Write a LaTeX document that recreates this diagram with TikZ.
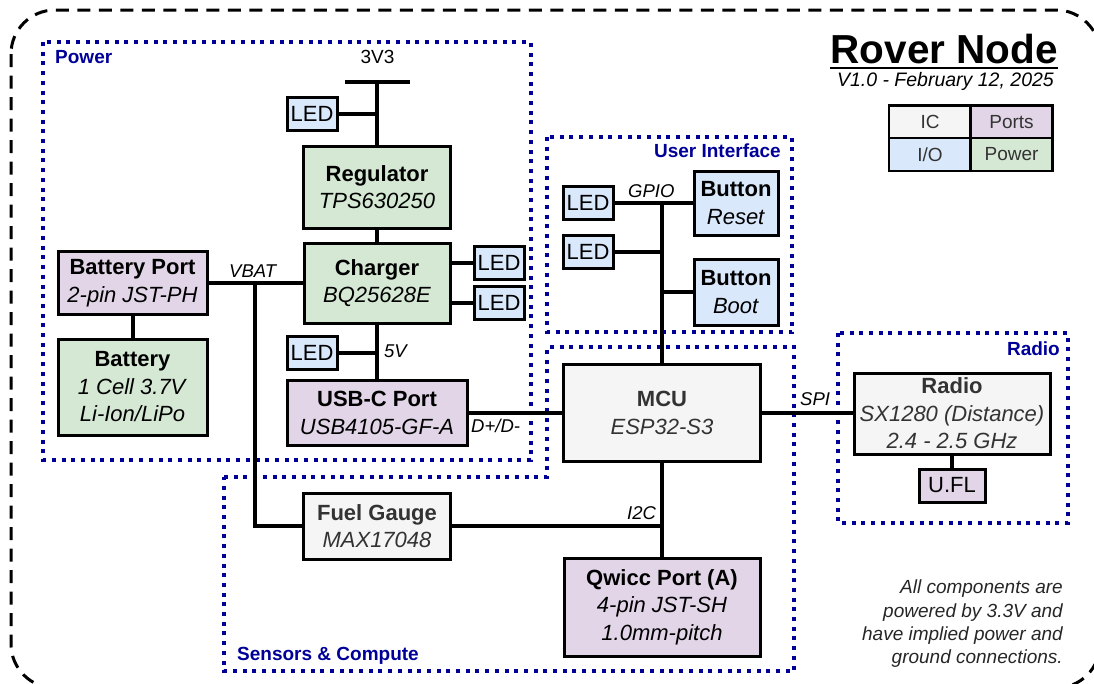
\documentclass[tikz,border=0pt]{standalone}
\usepackage{fontspec}
\setmainfont{Liberation Sans}
\definecolor{cgreen}{HTML}{D5E8D4}
\definecolor{cpurple}{HTML}{E1D5E7}
\definecolor{cblue}{HTML}{DAE8FC}
\definecolor{cgray}{HTML}{F5F5F5}
\definecolor{cdark}{HTML}{333333}
\definecolor{navy}{HTML}{000099}
\tikzset{
  box/.style={draw, line width=3pt, inner sep=0pt, align=center, font=\fontsize{22}{27.5}\selectfont},
  pw/.style={box, fill=cgreen},
  prt/.style={box, fill=cpurple},
  io/.style={box, fill=cblue},
  ic/.style={box, fill=cgray, text=cdark},
  led/.style={io, minimum width=50pt, minimum height=33pt},
  wire/.style={line width=4pt},
  grp/.style={draw=navy, line width=4pt, dash pattern=on 4pt off 5.7pt},
  lbl/.style={font=\fontsize{18.5}{20}\selectfont\itshape, inner sep=0pt},
  glbl/.style={font=\fontsize{19}{20}\selectfont\bfseries, text=navy, inner sep=0pt},
  leg/.style={draw, line width=2.5pt, inner sep=0pt, minimum width=82pt, minimum height=33pt, text=cdark, font=\fontsize{19}{20}\selectfont},
  note/.style={font=\fontsize{19}{20}\selectfont\itshape, text=black!85, inner sep=0pt, anchor=base east},
}
\begin{document}
\begin{tikzpicture}[x=1pt,y=-1pt]
\useasboundingbox (0,0) rectangle (1094,683);
% outer frame
\draw[line width=3pt, dash pattern=on 13pt off 8.5pt, rounded corners=44pt] (11,10) rectangle (1100,688);
% groups
\draw[grp] (43,42) rectangle (531,460);
\draw[grp] (547,137) rectangle (792,332);
\draw[grp] (224,477) -- (547,477) -- (547,347) -- (794,347) -- (794,671) -- (224,671) -- cycle;
\draw[grp] (838,333) rectangle (1068,523);
\node[glbl, anchor=base west] (gpower) at (55,63) {Power};
\node[glbl, anchor=base east] (gui) at (781,157) {User Interface};
\node[glbl, anchor=base west] (gsens) at (237,660) {Sensors \& Compute};
\node[glbl, anchor=base east] (gradio) at (1060,355) {Radio};
% title
\node[font=\fontsize{40.5}{44}\selectfont\bfseries, inner sep=0pt, anchor=base east] (title) at (1058,63) {Rover Node};
\draw[line width=2.5pt] ([yshift=-5pt]title.base west) -- ([yshift=-5pt]title.base east);
\node[font=\fontsize{19.5}{22}\selectfont\itshape, inner sep=0pt, anchor=base east] (sub) at (1054,86) {V1.0 - February 12, 2025};
% legend
\node[leg, fill=cgray] (lic) at (930,122) {IC};
\node[leg, fill=cpurple] (lports) at (1011.5,122) {Ports};
\node[leg, fill=cblue] (lio) at (930,154.5) {I/O};
\node[leg, fill=cgreen] (lpow) at (1011.5,154.5) {Power};
% boxes
\node[pw, minimum width=147pt, minimum height=82pt] (reg) at (377,187) {\textbf{Regulator}\\\textit{TPS630250}};
\node[pw, minimum width=146pt, minimum height=80pt] (chg) at (377,283) {\textbf{Charger}\\\textit{BQ25628E}};
\node[prt, minimum width=149pt, minimum height=63pt] (bport) at (132.5,283) {\textbf{Battery Port}\\\textit{2-pin JST-PH}};
\node[pw, minimum width=149pt, minimum height=96pt] (bat) at (132.5,387) {\textbf{Battery}\\\textit{1 Cell 3.7V}\\\textit{Li-Ion/LiPo}};
\node[prt, minimum width=180pt, minimum height=65pt] (usb) at (377,413) {\textbf{USB-C Port}\\\textit{USB4105-GF-A}};
\node[led] (tled) at (312,114) {LED};
\node[led] (cled1) at (499,262.5) {LED};
\node[led] (cled2) at (499,303) {LED};
\node[led] (vled) at (312,353) {LED};
\node[led] (uled1) at (588,202.5) {LED};
\node[led] (uled2) at (588,251.5) {LED};
\node[io, minimum width=84pt, minimum height=64pt] (reset) at (736,203) {\textbf{Button}\\\textit{Reset}};
\node[io, minimum width=84pt, minimum height=66pt] (boot) at (736,292) {\textbf{Button}\\\textit{Boot}};
\node[ic, minimum width=197pt, minimum height=97pt] (mcu) at (662,413) {\textbf{MCU}\\\textit{ESP32-S3}};
\node[ic, minimum width=196pt, minimum height=81pt] (radio) at (952,413.5) {\textbf{Radio}\\\textit{SX1280 (Distance)}\\\textit{2.4 - 2.5 GHz}};
\node[prt, minimum width=66pt, minimum height=33pt] (ufl) at (952,485.5) {U.FL};
\node[ic, minimum width=147pt, minimum height=66pt] (fuel) at (377,526) {\textbf{Fuel Gauge}\\\textit{MAX17048}};
\node[prt, minimum width=196pt, minimum height=98pt] (qwicc) at (662,607) {\textbf{Qwicc Port (A)}\\\textit{4-pin JST-SH}\\\textit{1.0mm-pitch}};
% rails
\coordinate (bl) at (345,82);
\coordinate (br) at (410,82);
\coordinate (j33) at (377,82);
\coordinate (vbat) at (255,283);
\node[font=\fontsize{19}{20}\selectfont, inner sep=0pt, anchor=base] (l3v3) at (377.5,63) {3V3};
% wires
\draw[wire] (bl) -- (br);
\draw[wire] (j33) -- (reg.north);
\draw[wire] (tled.east) -- (tled.east -| reg.north);
\draw[wire] (reg.south) -- (chg.north);
\draw[wire] (cled1.west) -- (cled1.west -| chg.east);
\draw[wire] (cled2.west) -- (cled2.west -| chg.east);
\draw[wire] (chg.south) -- (usb.north);
\draw[wire] (vled.east) -- (vled.east -| chg.south);
\draw[wire] (bport.east) -- (bport.east -| chg.west);
\draw[wire] (bport.south) -- (bat.north);
\draw[wire] (vbat) |- (fuel.west);
\draw[wire] (fuel.east) -- (fuel.east -| mcu.south);
\draw[wire] (mcu.south) -- (qwicc.north);
\draw[wire] (usb.east) -- (usb.east -| mcu.west);
\draw[wire] (mcu.east) -- (mcu.east -| radio.west);
\draw[wire] (radio.south) -- (ufl.north);
\draw[wire] (uled1.east) -- (uled1.east -| reset.west);
\draw[wire] (uled1.east -| mcu.north) -- (mcu.north);
\draw[wire] (uled2.east) -- (uled2.east -| mcu.north);
\draw[wire] (boot.west) -- (boot.west -| mcu.north);
% labels
\node[lbl, anchor=base west] (lvbat) at (229,277) {VBAT};
\node[lbl, anchor=base west] (l5v) at (384,357) {5V};
\node[lbl, anchor=base west] (ldd) at (471,432) {D+/D-};
\node[lbl, anchor=base west] (lgpio) at (628,197) {GPIO};
\node[lbl, anchor=base west] (lspi) at (800,405) {SPI};
\node[lbl, anchor=base west] (li2c) at (627,519) {I2C};
% note
\node[note] (n1) at (1063,593) {All components are};
\node[note] (n2) at (1063,617) {powered by 3.3V and};
\node[note] (n3) at (1063,640) {have implied power and};
\node[note] (n4) at (1063,663) {ground connections.};
\end{tikzpicture}
\end{document}
